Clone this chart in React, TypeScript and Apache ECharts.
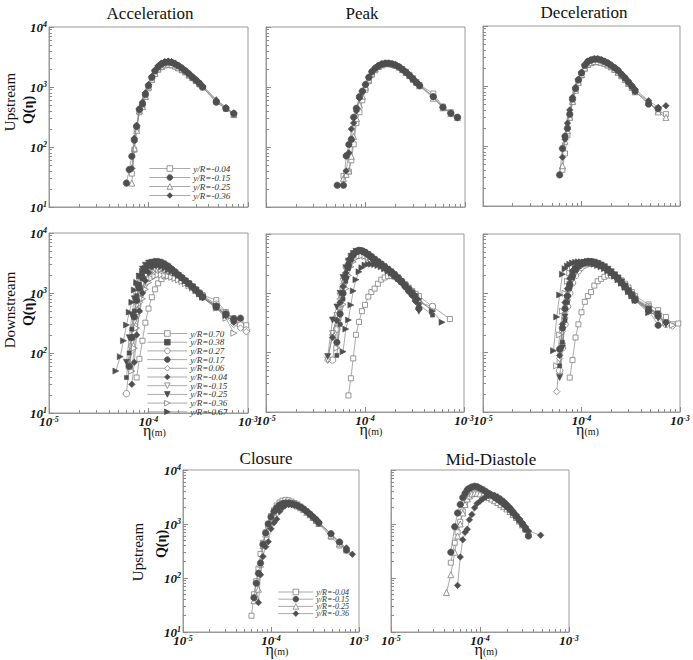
import React, { useEffect, useRef } from 'react';
import * as echarts from 'echarts';

const _ = null;
const SERIF = 'Liberation Serif';

// Droplet-size bins, eta (m)
const ETA = [4.2e-5, 4.7e-5, 5.2e-5, 5.6e-5, 6.0e-5, 6.4e-5, 6.8e-5, 7.2e-5, 7.6e-5, 8.1e-5, 8.7e-5, 9.3e-5,
  1.0e-4, 1.08e-4, 1.16e-4, 1.25e-4, 1.35e-4, 1.46e-4, 1.58e-4, 1.71e-4, 1.85e-4, 2.0e-4, 2.17e-4, 2.35e-4,
  2.55e-4, 2.77e-4, 3.0e-4, 3.25e-4, 3.5e-4, 4.8e-4, 6.0e-4, 7.2e-4, 8.4e-4, 9.6e-4];

const X_TICKS = [1e-5, 2e-5, 3e-5, 4e-5, 5e-5, 6e-5, 7e-5, 8e-5, 9e-5, 1e-4, 2e-4, 3e-4, 4e-4, 5e-4, 6e-4, 7e-4, 8e-4, 9e-4, 1e-3];
const Y_TICKS = [10, 20, 30, 40, 50, 60, 70, 80, 90, 100, 200, 300, 400, 500, 600, 700, 800, 900, 1000, 2000, 3000, 4000, 5000, 6000, 7000, 8000, 9000, 10000];

const UP_NAMES = ['y/R=-0.04', 'y/R=-0.15', 'y/R=-0.25', 'y/R=-0.36'];
const DOWN_NAMES = ['y/R=0.70', 'y/R=0.38', 'y/R=0.27', 'y/R=0.17', 'y/R=0.06', 'y/R=-0.04', 'y/R=-0.15', 'y/R=-0.25', 'y/R=-0.36', 'y/R=-0.67'];

// Upstream - Acceleration
const UA_004 = [_,_,_,_,_,_,36,90,200,380,480,680,950,1300,1650,1950,2150,2300,2350,2300,2200,2050,1900,1750,1550,1400,1250,1100,980,560,430,340,_,_];
const UA_015 = [_,_,_,_,25,42,70,130,220,420,520,750,1050,1450,1850,2150,2400,2550,2600,2550,2400,2250,2050,1850,1650,1450,1300,1150,1000,560,440,360,_,_];
const UA_025 = [_,_,_,_,_,_,25,95,190,400,470,700,1000,1350,1700,2000,2200,2350,2400,2350,2250,2100,1950,1800,1600,1450,1300,1150,1050,620,460,350,_,_];
const UA_036 = [_,_,_,_,_,_,44,140,230,440,560,800,1100,1500,1900,2250,2500,2650,2700,2650,2500,2300,2100,1900,1700,1500,1330,1180,1030,600,450,370,_,_];

// Upstream - Peak
const UP_004 = [_,_,_,_,33,38,39,60,111,250,380,600,900,1250,1600,1900,2150,2300,2400,2450,2400,2300,2150,2000,1800,1600,1400,1220,1080,780,470,380,310,_];
const UP_015 = [_,_,23,_,23,71,110,134,313,442,690,850,1100,1450,1800,2050,2250,2400,2480,2480,2420,2320,2150,1950,1750,1550,1350,1180,1050,690,460,365,313,_];
const UP_025 = [_,_,_,_,30,35,40,70,150,300,500,700,1000,1350,1700,2000,2200,2350,2450,2450,2400,2300,2150,1950,1750,1550,1350,1200,1050,650,450,360,310,_];
const UP_036 = [_,_,_,_,_,40,80,200,250,400,650,850,1100,1450,1800,2100,2300,2450,2500,2500,2450,2350,2200,2000,1800,1600,1400,1220,1080,690,460,370,305,_];

// Upstream - Deceleration
const UD_004 = [_,_,_,_,_,40,75,150,300,550,850,1150,1500,1950,2250,2400,2500,2500,2450,2350,2200,2050,1850,1650,1450,1250,1100,950,800,520,380,340,_,_];
const UD_015 = [_,_,_,_,33,91,145,197,340,610,910,1260,1650,2200,2550,2700,2800,2800,2700,2550,2400,2200,2000,1800,1550,1350,1150,980,820,500,420,_,_,_];
const UD_025 = [_,_,_,_,_,47,120,180,300,550,850,1150,1550,2000,2300,2450,2550,2550,2500,2400,2250,2100,1900,1700,1500,1300,1100,950,800,560,370,300,_,_];
const UD_036 = [_,_,_,_,_,65,130,240,400,650,950,1300,1700,2300,2600,2750,2850,2850,2750,2600,2450,2250,2050,1850,1600,1400,1200,1030,880,570,440,470,_,_];

// Downstream - Acceleration
const DA_070 = [_,_,_,_,_,_,_,_,39,80,160,320,550,850,1150,1450,1700,1900,2000,2000,1950,1850,1700,1550,1420,1280,1150,1020,920,760,480,380,330,290];
const DA_038 = [_,_,_,_,39,100,250,500,900,1400,2000,2600,3000,3250,3350,3300,3200,2950,2700,2450,2200,1950,1750,1580,1420,1250,1100,950,830,560,430,330,_,_];
const DA_027 = [_,_,_,_,21,60,130,280,500,800,1150,1550,1900,2150,2300,2350,2350,2300,2200,2100,1950,1800,1650,1500,1380,1250,1120,1000,900,650,470,360,290,240];
const DA_017 = [_,_,_,_,_,60,180,400,750,1200,1800,2400,2900,3200,3350,3350,3250,3050,2800,2500,2250,2000,1800,1600,1430,1270,1120,980,860,600,450,370,380,_];
const DA_006 = [_,_,_,_,_,55,110,220,420,700,1050,1400,1700,1900,2050,2100,2100,2050,2000,1900,1800,1700,1580,1450,1330,1200,1080,960,860,620,400,300,260,226];
const DA_M004 = [_,_,_,_,_,_,30,70,200,500,1000,1600,2200,2700,3000,3100,3050,2900,2700,2450,2200,2000,1800,1600,1420,1260,1100,960,840,580,420,330,_,_];
const DA_M015 = [_,_,_,_,_,60,150,330,620,1000,1450,1900,2250,2450,2550,2550,2500,2400,2250,2100,1950,1800,1650,1500,1370,1230,1100,970,860,600,430,320,_,_];
const DA_M025 = [_,_,_,_,70,180,420,800,1300,1900,2500,2900,3150,3250,3250,3150,3000,2800,2550,2350,2150,1950,1750,1580,1420,1260,1100,960,840,580,420,340,_,_];
const DA_M036 = [_,_,_,_,_,_,50,120,260,480,800,1150,1500,1750,1900,2000,2000,1950,1900,1830,1750,1650,1550,1430,1320,1200,1080,960,850,560,380,214,_,_];
const DA_M067 = [_,50,87,160,293,480,700,1120,1500,1900,2300,2600,2800,2900,2900,2850,2750,2600,2450,2300,2150,1950,1780,1600,1430,1270,1120,980,860,600,420,_,_,_];

// Downstream - Peak
const DP_070 = [_,_,_,_,_,_,19,37,80,200,330,500,640,880,1050,1200,1450,1700,1850,1950,1950,1900,1750,1600,1420,1250,1100,980,900,600,_,370,_,_];
const DP_038 = [_,_,90,300,800,1600,2600,3600,4300,4900,5200,5300,5100,4700,4300,3900,3550,3250,2950,2650,2400,2150,1900,1650,1420,1220,1050,850,650,430,_,_,_,_];
const DP_027 = [_,75,250,600,1200,2000,2800,3500,4000,4300,4500,4500,4400,4200,3900,3600,3300,3000,2750,2500,2250,2050,1800,1600,1400,1200,1050,880,700,600,_,_,_,_];
const DP_017 = [_,_,150,450,1000,1850,2900,3800,4500,5000,5300,5200,4900,4500,4100,3700,3350,3050,2750,2500,2250,2000,1750,1550,1300,1100,950,760,560,_,_,_,_,_];
const DP_006 = [75,200,400,800,1400,2200,3000,3600,4000,4300,4400,4400,4200,3950,3700,3400,3100,2850,2600,2350,2100,1900,1700,1500,1300,1130,980,820,660,_,_,_,_,_];
const DP_M004 = [_,180,350,700,1300,2200,3200,4000,4600,5000,5100,5000,4700,4300,3900,3550,3250,2950,2700,2450,2200,1950,1700,1500,1280,1080,920,740,540,_,_,_,_,_];
const DP_M015 = [75,210,420,900,1600,2500,3300,3900,4300,4600,4700,4600,4400,4100,3800,3500,3200,2900,2650,2400,2150,1950,1720,1520,1320,1130,970,800,620,_,_,_,_,_];
const DP_M025 = [86,355,590,1000,1850,2700,3500,4200,4700,5100,5200,5100,4800,4400,4000,3650,3300,3000,2700,2450,2200,1950,1720,1500,1280,1080,920,720,500,_,_,_,_,_];
const DP_M036 = [_,_,120,300,650,1200,2000,2800,3400,3900,4200,4300,4200,4000,3750,3450,3150,2900,2650,2400,2200,2000,1800,1600,1400,1220,1060,900,740,520,_,_,_,_];
const DP_M067 = [_,_,_,_,104,250,355,635,1100,1700,2300,2700,3000,3100,3100,3050,2950,2800,2600,2400,2200,2000,1800,1600,1420,1250,1100,950,800,500,325,_,_,_];

// Downstream - Deceleration
const DD_070 = [_,_,_,_,_,_,_,_,38,75,180,300,480,720,900,1050,1350,1600,1750,1900,2000,2000,1950,1850,1650,1450,1250,1050,900,650,520,400,300,310];
const DD_038 = [_,_,_,_,60,150,350,700,1200,1800,2400,2800,3050,3200,3300,3300,3250,3100,2950,2750,2550,2300,2050,1800,1550,1320,1120,950,800,560,470,330,_,_];
const DD_027 = [_,_,_,_,50,120,300,600,1000,1500,2000,2400,2750,3000,3150,3200,3200,3100,2950,2750,2500,2250,2000,1780,1550,1320,1120,960,820,600,430,300,_,_];
const DD_017 = [_,_,_,_,115,260,550,900,1400,2000,2500,2900,3150,3300,3400,3400,3300,3150,2950,2750,2500,2250,2000,1750,1500,1280,1080,920,770,520,290,_,_,_];
const DD_006 = [_,_,_,22,80,230,500,900,1400,1900,2400,2800,3050,3200,3250,3250,3200,3050,2900,2700,2450,2200,1950,1720,1500,1300,1100,940,800,580,420,320,280,_];
const DD_M004 = [_,_,_,_,90,300,700,1200,1800,2400,2800,3100,3300,3450,3500,3450,3350,3200,3000,2750,2500,2250,2000,1750,1500,1280,1080,910,760,500,400,320,_,_];
const DD_M015 = [_,_,_,_,40,130,350,700,1150,1700,2200,2600,2900,3100,3200,3250,3200,3100,2950,2750,2500,2250,2000,1760,1530,1300,1100,940,790,560,410,310,_,_];
const DD_M025 = [_,_,_,_,38,120,400,850,1400,2000,2500,2900,3150,3300,3400,3400,3350,3200,3000,2800,2550,2300,2050,1800,1550,1320,1100,930,780,530,380,300,_,_];
const DD_M036 = [_,_,_,60,200,500,1000,1600,2200,2700,3000,3200,3300,3350,3350,3300,3200,3050,2900,2700,2450,2200,1950,1720,1500,1280,1080,920,780,560,420,320,290,_];
const DD_M067 = [_,_,108,400,940,2100,2600,2900,3100,3250,3350,3400,3400,3350,3300,3200,3100,2950,2800,2600,2400,2200,1950,1700,1480,1260,1070,900,760,470,450,_,_,_];

// Upstream - Closure
const UC_004 = [_,_,_,_,20,50,87,150,280,450,700,1000,1400,1800,2200,2500,2700,2800,2750,2600,2450,2300,2100,1900,1700,1500,1320,1150,1000,580,400,_,_,_];
const UC_015 = [_,_,_,_,_,43,80,122,190,420,680,1000,1350,1700,2000,2250,2400,2450,2450,2400,2300,2200,2050,1900,1700,1520,1350,1200,1050,660,465,330,_,_];
const UC_025 = [_,_,_,_,_,38,45,62,180,400,650,950,1300,1650,1950,2200,2350,2400,2400,2350,2250,2150,2000,1850,1650,1480,1320,1170,1030,620,430,330,_,_];
const UC_036 = [_,_,_,_,_,_,_,35,115,250,380,470,815,1050,1230,1700,2000,2200,2300,2300,2250,2150,2050,1900,1720,1550,1380,1230,1080,660,460,360,275,_];

// Upstream - Mid-Diastole
const UM_004 = [_,192,450,700,1100,1700,2300,2900,3400,3700,3800,3800,3700,3550,3350,3150,2950,2750,2550,2350,2150,1950,1750,1550,1350,1150,980,820,680,_,_,_,_,_];
const UM_015 = [_,300,890,1600,2300,3100,3700,4300,4600,4850,5000,4900,4600,4300,4000,3700,3400,3100,2850,2600,2350,2100,1850,1600,1380,1170,980,800,600,_,_,_,_,_];
const UM_025 = [54,115,300,600,1000,1600,2300,2900,3300,3600,3700,3700,3600,3450,3300,3100,2900,2700,2500,2300,2100,1900,1700,1500,1320,1130,960,800,650,_,_,_,_,_];
const UM_036 = [_,_,_,73,245,510,700,800,1200,1500,2000,2400,2650,2950,3170,3350,3500,3400,3200,2950,2650,2350,2050,1750,1480,1250,1050,880,740,620,_,_,_,_];

const UP_MARKS = ['osq', 'fcirc', 'otri', 'fdiam'];
const DOWN_MARKS = ['osq', 'fsq', 'ocirc', 'fcirc', 'odiam', 'fdiam', 'otriD', 'ftriD', 'otriR', 'ftriR'];

const MARKERS: Record<string, { symbol: string; size: number; filled: boolean; rotate?: number }> = {
  osq: { symbol: 'rect', size: 5, filled: false },
  fsq: { symbol: 'rect', size: 4, filled: true },
  ocirc: { symbol: 'circle', size: 6.5, filled: false },
  fcirc: { symbol: 'circle', size: 6.5, filled: true },
  odiam: { symbol: 'diamond', size: 6.5, filled: false },
  fdiam: { symbol: 'diamond', size: 6.5, filled: true },
  otri: { symbol: 'triangle', size: 6, filled: false },
  otriD: { symbol: 'triangle', size: 6, filled: false, rotate: 180 },
  ftriD: { symbol: 'triangle', size: 6, filled: true, rotate: 180 },
  otriR: { symbol: 'triangle', size: 6, filled: false, rotate: -90 },
  ftriR: { symbol: 'triangle', size: 6, filled: true, rotate: -90 },
};

const PANELS = [
  { q: [UA_004, UA_015, UA_025, UA_036], names: UP_NAMES, marks: UP_MARKS, xLab: false, yLab: true },
  { q: [UP_004, UP_015, UP_025, UP_036], names: UP_NAMES, marks: UP_MARKS, xLab: false, yLab: false },
  { q: [UD_004, UD_015, UD_025, UD_036], names: UP_NAMES, marks: UP_MARKS, xLab: false, yLab: false },
  { q: [DA_070, DA_038, DA_027, DA_017, DA_006, DA_M004, DA_M015, DA_M025, DA_M036, DA_M067], names: DOWN_NAMES, marks: DOWN_MARKS, xLab: true, yLab: true },
  { q: [DP_070, DP_038, DP_027, DP_017, DP_006, DP_M004, DP_M015, DP_M025, DP_M036, DP_M067], names: DOWN_NAMES, marks: DOWN_MARKS, xLab: true, yLab: false },
  { q: [DD_070, DD_038, DD_027, DD_017, DD_006, DD_M004, DD_M015, DD_M025, DD_M036, DD_M067], names: DOWN_NAMES, marks: DOWN_MARKS, xLab: true, yLab: false },
  { q: [UC_004, UC_015, UC_025, UC_036], names: UP_NAMES, marks: UP_MARKS, xLab: true, yLab: true },
  { q: [UM_004, UM_015, UM_025, UM_036], names: UP_NAMES, marks: UP_MARKS, xLab: true, yLab: false },
];

const GRIDS = [
  { left: 49, top: 27, width: 199, height: 180 },
  { left: 266, top: 27, width: 199, height: 180 },
  { left: 483, top: 26, width: 197, height: 180 },
  { left: 49, top: 233, width: 199, height: 180 },
  { left: 266, top: 234, width: 198, height: 178 },
  { left: 483, top: 234, width: 197, height: 178 },
  { left: 183, top: 470, width: 176, height: 162 },
  { left: 391, top: 470, width: 178, height: 162 },
];

const LEGENDS = [
  { panel: 0, left: 149, top: 164, itemWidth: 41, fontSize: 9, itemGap: 0 },
  { panel: 3, left: 147, top: 329, itemWidth: 40, fontSize: 9, itemGap: -0.3 },
  { panel: 6, left: 278, top: 588, itemWidth: 35, fontSize: 8, itemGap: -0.8 },
];

const TITLES = [
  { text: 'Acceleration', x: 150, y: 13 },
  { text: 'Peak', x: 362, y: 13 },
  { text: 'Deceleration', x: 584, y: 12 },
  { text: 'Closure', x: 266, y: 458 },
  { text: 'Mid-Diastole', x: 491, y: 459 },
];

const SIDE_LABELS = [
  { text: 'Upstream', x: 10, y: 102, bold: false, size: 15 },
  { text: 'Q(η)', x: 28, y: 110, bold: true, size: 14 },
  { text: 'Downstream', x: 10, y: 310, bold: false, size: 15 },
  { text: 'Q(η)', x: 28, y: 312, bold: true, size: 14 },
  { text: 'Upstream', x: 138, y: 552, bold: false, size: 15 },
  { text: 'Q(η)', x: 161, y: 544, bold: true, size: 14 },
];

const INK = '#111';
const FILL_DARK = '#4f4f4f';
const OPEN_EDGE = '#7d7d7d';
const LINE_C = '#858585';
const FRAME = '#9a9a9a';

const RICH = {
  b: { fontFamily: SERIF, fontSize: 13, fontWeight: 'bold', fontStyle: 'italic', color: INK, verticalAlign: 'bottom' },
  s: { fontFamily: SERIF, fontSize: 8, fontWeight: 'bold', fontStyle: 'italic', color: INK, verticalAlign: 'top' },
};
const fmtPow = (v: number) => `{b|10}{s|${Math.round(Math.log10(v))}}`;

function buildOption() {
  const grid: any[] = [];
  const xAxis: any[] = [];
  const yAxis: any[] = [];
  const series: any[] = [];

  PANELS.forEach((p, gi) => {
    grid.push({ ...GRIDS[gi], show: true, borderColor: FRAME, borderWidth: 1, backgroundColor: 'transparent', containLabel: false, outerBoundsMode: 'none' });
    xAxis.push({
      type: 'log', logBase: 10, gridIndex: gi, min: 1e-5, max: 1e-3, position: 'bottom',
      axisLine: { show: true, onZero: false, lineStyle: { color: FRAME, width: 1 } },
      axisTick: { show: true, inside: true, length: 5, lineStyle: { color: '#8a8a8a', width: 1 } },
      axisLabel: { show: p.xLab, formatter: fmtPow, rich: RICH, margin: 2, showMinLabel: true, showMaxLabel: true, hideOverlap: false },
      splitLine: { show: false },
      name: p.xLab ? '{e|η}{m|(m)}' : '', nameLocation: 'middle', nameGap: 9, nameMoveOverlap: false,
      nameTextStyle: {
        padding: [0, 0, 0, 12],
        rich: {
          e: { fontFamily: SERIF, fontSize: 16, color: INK, verticalAlign: 'bottom' },
          m: { fontFamily: SERIF, fontSize: 10, color: INK, verticalAlign: 'bottom', padding: [0, 0, 1, 0] },
        },
      },
    });
    xAxis.push({
      type: 'log', logBase: 10, gridIndex: gi, min: 1e-5, max: 1e-3, position: 'bottom',
      axisLine: { show: false },
      axisTick: { show: true, inside: true, length: 3, customValues: X_TICKS, lineStyle: { color: '#8a8a8a', width: 1 } },
      axisLabel: { show: false }, splitLine: { show: false },
    });
    yAxis.push({
      type: 'log', logBase: 10, gridIndex: gi, min: 10, max: 10000, position: 'left',
      axisLine: { show: true, onZero: false, lineStyle: { color: FRAME, width: 1 } },
      axisTick: { show: true, inside: true, length: 5, lineStyle: { color: '#8a8a8a', width: 1 } },
      axisLabel: { show: p.yLab, formatter: fmtPow, rich: RICH, margin: 2, showMinLabel: true, showMaxLabel: true, hideOverlap: false },
      splitLine: { show: false },
    });
    yAxis.push({
      type: 'log', logBase: 10, gridIndex: gi, min: 10, max: 10000, position: 'left',
      axisLine: { show: false },
      axisTick: { show: true, inside: true, length: 3, customValues: Y_TICKS, lineStyle: { color: '#8a8a8a', width: 1 } },
      axisLabel: { show: false }, splitLine: { show: false },
    });

    p.q.forEach((arr, si) => {
      const m = MARKERS[p.marks[si]];
      series.push({
        type: 'line',
        name: `${gi}|${p.names[si]}`,
        xAxisIndex: gi * 2,
        yAxisIndex: gi * 2,
        data: ETA.map((e, i) => [e, arr[i]]).filter((d) => d[1] !== null),
        symbol: m.symbol,
        symbolSize: m.size,
        symbolRotate: m.rotate || 0,
        showSymbol: true,
        itemStyle: m.filled
          ? { color: FILL_DARK, borderColor: FILL_DARK, borderWidth: 0.6 }
          : { color: '#ffffff', borderColor: OPEN_EDGE, borderWidth: 0.8 },
        lineStyle: { color: LINE_C, width: 0.7 },
        emphasis: { disabled: true },
        silent: true,
        z: m.filled ? 3 : 2,
      });
    });
  });

  const legend = LEGENDS.map((l) => ({
    left: l.left, top: l.top, orient: 'vertical', padding: 0, itemGap: l.itemGap,
    itemWidth: l.itemWidth, itemHeight: 7, selectedMode: false,
    data: PANELS[l.panel].names.map((n) => `${l.panel}|${n}`),
    formatter: (name: string) => name.split('|')[1],
    itemStyle: { borderWidth: 0.8 },
    lineStyle: { width: 0.7 },
    textStyle: { fontFamily: SERIF, fontStyle: 'italic', fontSize: l.fontSize, color: '#333', padding: [0, 0, 0, -2] },
  }));

  const graphic: any[] = [];
  TITLES.forEach((t) => graphic.push({
    type: 'text', x: t.x, y: t.y, silent: true,
    style: { text: t.text, fontFamily: SERIF, fontSize: 17, fontWeight: 'normal', fill: INK, align: 'center', verticalAlign: 'middle' },
  }));
  SIDE_LABELS.forEach((t) => graphic.push({
    type: 'text', x: t.x, y: t.y, rotation: Math.PI / 2, silent: true,
    style: { text: t.text, fontFamily: SERIF, fontSize: t.size, fontWeight: t.bold ? 'bold' : 'normal', fill: INK, align: 'center', verticalAlign: 'middle' },
  }));

  return {
    animation: false,
    backgroundColor: '#ffffff',
    grid, xAxis, yAxis, series, legend, graphic,
  };
}

export default function App() {
  const ref = useRef<HTMLDivElement>(null);
  useEffect(() => {
    const chart = echarts.init(ref.current as HTMLDivElement, null, { renderer: 'svg' });
    chart.setOption(buildOption() as any);
    return () => chart.dispose();
  }, []);
  return <div ref={ref} style={{ position: 'fixed', left: 0, top: 0, width: 693, height: 660, background: '#fff' }} />;
}
